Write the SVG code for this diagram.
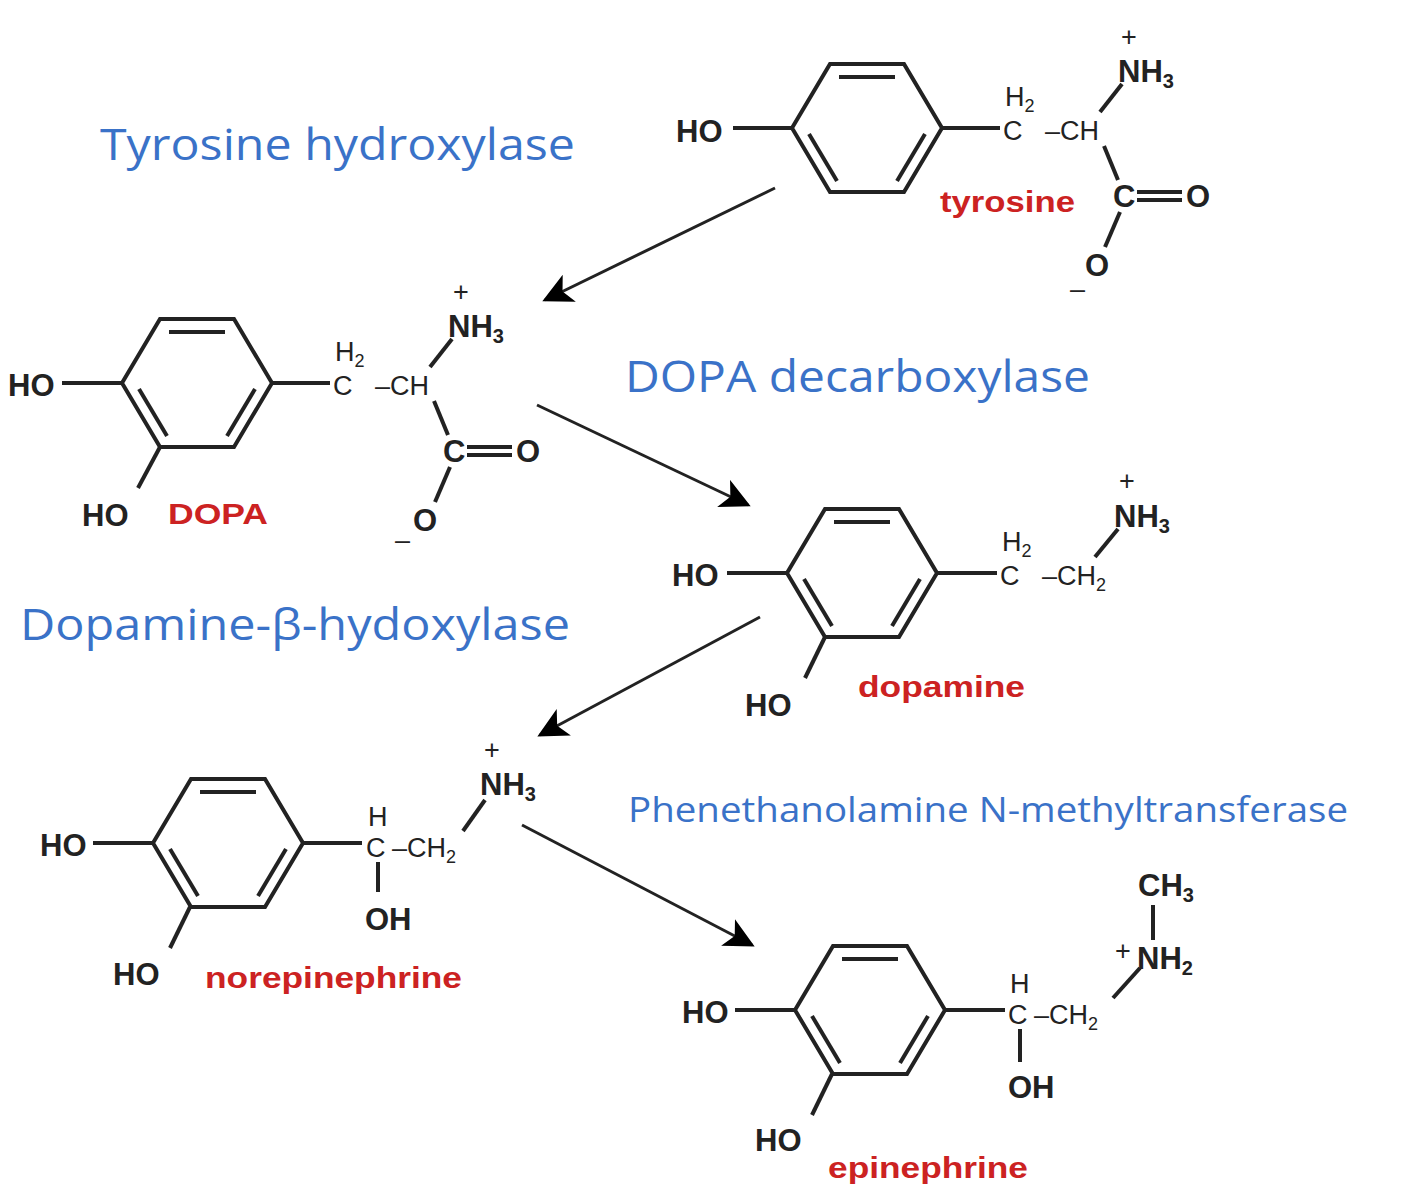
<svg xmlns="http://www.w3.org/2000/svg" width="1418" height="1200" viewBox="0 0 1418 1200">
<defs>
<marker id="ah" viewBox="0 0 10 10" refX="9" refY="5" markerWidth="11" markerHeight="10" orient="auto" markerUnits="strokeWidth"><path d="M0,0 L10,5 L0,10 L2.5,5 z" fill="#000"/></marker>
<g id="ring"><polygon points="-75,0 -37,-64 37,-64 75,0 37,64 -37,64" fill="none" stroke="#222" stroke-width="4"/><line x1="-28" y1="-51" x2="28" y2="-51" stroke="#222" stroke-width="4"/><line x1="58" y1="6" x2="30" y2="53" stroke="#222" stroke-width="4"/><line x1="-30" y1="53" x2="-58" y2="6" stroke="#222" stroke-width="4"/></g>
</defs>
<style>
.b{stroke:#222;stroke-width:4;fill:none}
.t{font-family:"Liberation Sans",Arial,sans-serif;font-weight:bold;font-size:31px;fill:#222}
.s{font-family:"Liberation Sans",Arial,sans-serif;font-size:27px;fill:#222}
.r{font-family:"Liberation Sans",Arial,sans-serif;font-weight:bold;font-size:30px;fill:#cc2222}
.e{font-family:"Open Sans","Liberation Sans",sans-serif;fill:#3a72c8}
</style>
<rect width="1418" height="1200" fill="#fff"/>
<g id="tyrosine">
<use href="#ring" x="867" y="128"/>
<line class="b" x1="733" y1="128" x2="792" y2="128"/><line class="b" x1="942" y1="128" x2="1000" y2="128"/>
<text class="t" x="676" y="142">HO</text>
<text class="s" x="1005" y="106">H<tspan font-size="18" dy="6">2</tspan></text>
<text class="s" x="1003" y="140">C</text><text class="s" x="1045" y="140">–CH</text>
<line class="b" x1="1100" y1="112" x2="1122" y2="84"/>
<text class="t" x="1118" y="82">NH<tspan font-size="20" dy="6">3</tspan></text><text class="s" x="1121" y="46">+</text>
<line class="b" x1="1104" y1="146" x2="1118" y2="180"/>
<text class="t" x="1113" y="207">C</text><line class="b" x1="1137" y1="192" x2="1182" y2="192"/><line class="b" x1="1137" y1="200" x2="1182" y2="200"/><text class="t" x="1186" y="207">O</text>
<line class="b" x1="1120" y1="212" x2="1105" y2="247"/>
<text class="t" x="1085" y="276">O</text><text class="s" x="1070" y="298">–</text>
<text class="r" x="940" y="212" textLength="135" lengthAdjust="spacingAndGlyphs">tyrosine</text>
</g>
<g id="dopa">
<use href="#ring" x="197" y="383"/>
<line class="b" x1="62" y1="383" x2="122" y2="383"/><line class="b" x1="272" y1="383" x2="330" y2="383"/>
<line class="b" x1="160" y1="447" x2="138" y2="488"/>
<text class="t" x="8" y="396">HO</text><text class="t" x="82" y="526">HO</text>
<text class="r" x="168" y="524" textLength="100" lengthAdjust="spacingAndGlyphs">DOPA</text>
<text class="s" x="335" y="361">H<tspan font-size="18" dy="6">2</tspan></text>
<text class="s" x="333" y="395">C</text><text class="s" x="375" y="395">–CH</text>
<line class="b" x1="430" y1="367" x2="452" y2="339"/>
<text class="t" x="448" y="337">NH<tspan font-size="20" dy="6">3</tspan></text><text class="s" x="453" y="301">+</text>
<line class="b" x1="434" y1="401" x2="448" y2="435"/>
<text class="t" x="443" y="462">C</text><line class="b" x1="467" y1="447" x2="512" y2="447"/><line class="b" x1="467" y1="455" x2="512" y2="455"/><text class="t" x="516" y="462">O</text>
<line class="b" x1="450" y1="467" x2="435" y2="502"/>
<text class="t" x="413" y="531">O</text><text class="s" x="395" y="549">–</text>
</g>
<g id="dopamine">
<use href="#ring" x="862" y="573"/>
<line class="b" x1="727" y1="573" x2="787" y2="573"/><line class="b" x1="937" y1="573" x2="997" y2="573"/>
<line class="b" x1="825" y1="637" x2="805" y2="678"/>
<text class="t" x="672" y="586">HO</text><text class="t" x="745" y="716">HO</text>
<text class="r" x="858" y="697" textLength="167" lengthAdjust="spacingAndGlyphs">dopamine</text>
<text class="s" x="1002" y="551">H<tspan font-size="18" dy="6">2</tspan></text>
<text class="s" x="1000" y="585">C</text><text class="s" x="1042" y="585">–CH<tspan font-size="18" dy="6">2</tspan></text>
<line class="b" x1="1095" y1="557" x2="1118" y2="529"/>
<text class="t" x="1114" y="527">NH<tspan font-size="20" dy="6">3</tspan></text><text class="s" x="1119" y="490">+</text>
</g>
<g id="norepinephrine">
<use href="#ring" x="228" y="843"/>
<line class="b" x1="93" y1="843" x2="153" y2="843"/><line class="b" x1="303" y1="843" x2="362" y2="843"/>
<line class="b" x1="190" y1="907" x2="170" y2="948"/>
<text class="t" x="40" y="856">HO</text><text class="t" x="113" y="985">HO</text>
<text class="r" x="205" y="988" textLength="257" lengthAdjust="spacingAndGlyphs">norepinephrine</text>
<text class="s" x="368" y="826">H</text>
<text class="s" x="366" y="857">C</text><line class="b" x1="378" y1="862" x2="378" y2="892"/>
<text class="t" x="365" y="930">OH</text>
<text class="s" x="392" y="857">–CH<tspan font-size="18" dy="6">2</tspan></text>
<line class="b" x1="463" y1="831" x2="485" y2="800"/>
<text class="t" x="480" y="795">NH<tspan font-size="20" dy="6">3</tspan></text><text class="s" x="484" y="759">+</text>
</g>
<g id="epinephrine">
<use href="#ring" x="870" y="1010"/>
<line class="b" x1="735" y1="1010" x2="795" y2="1010"/><line class="b" x1="945" y1="1010" x2="1005" y2="1010"/>
<line class="b" x1="832" y1="1074" x2="812" y2="1115"/>
<text class="t" x="682" y="1023">HO</text><text class="t" x="755" y="1151">HO</text>
<text class="r" x="828" y="1178" textLength="200" lengthAdjust="spacingAndGlyphs">epinephrine</text>
<text class="s" x="1010" y="993">H</text>
<text class="s" x="1008" y="1024">C</text><line class="b" x1="1020" y1="1029" x2="1020" y2="1062"/>
<text class="t" x="1008" y="1098">OH</text>
<text class="s" x="1034" y="1024">–CH<tspan font-size="18" dy="6">2</tspan></text>
<line class="b" x1="1113" y1="998" x2="1140" y2="968"/>
<text class="s" x="1115" y="960">+</text>
<text class="t" x="1137" y="969">NH<tspan font-size="20" dy="6">2</tspan></text>
<line class="b" x1="1153" y1="905" x2="1153" y2="940"/>
<text class="t" x="1138" y="896">CH<tspan font-size="20" dy="6">3</tspan></text>
</g>
<g id="enzymes">
<text class="e" x="100" y="160" font-size="44" textLength="475" lengthAdjust="spacingAndGlyphs">Tyrosine hydroxylase</text>
<text class="e" x="625" y="392" font-size="44" textLength="465" lengthAdjust="spacingAndGlyphs">DOPA decarboxylase</text>
<text class="e" x="20" y="640" font-size="44" textLength="550" lengthAdjust="spacingAndGlyphs">Dopamine-β-hydoxylase</text>
<text class="e" x="628" y="822" font-size="34" textLength="720" lengthAdjust="spacingAndGlyphs">Phenethanolamine N-methyltransferase</text>
</g>
<g id="connectors" stroke="#222" stroke-width="3" fill="none" marker-end="url(#ah)">
<line x1="775" y1="188" x2="545" y2="300"/>
<line x1="537" y1="405" x2="748" y2="505"/>
<line x1="760" y1="617" x2="540" y2="735"/>
<line x1="522" y1="825" x2="752" y2="945"/>
</g>
</svg>
